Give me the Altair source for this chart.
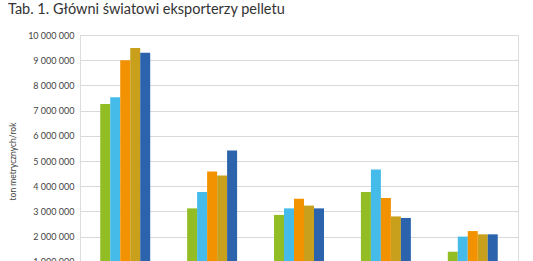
import altair as alt
import pandas as pd

countries = ["USA", "Kanada", "Łotwa", "Rosja", "Wietnam"]
years = ["2014", "2015", "2016", "2017", "2018"]
values = {
    "USA":     [7260000, 7530000, 9000000, 9480000, 9300000],
    "Kanada":  [3120000, 3770000, 4580000, 4420000, 5420000],
    "Łotwa":   [2860000, 3120000, 3500000, 3230000, 3120000],
    "Rosja":   [3770000, 4660000, 3530000, 2800000, 2740000],
    "Wietnam": [1400000, 2000000, 2220000, 2090000, 2090000],
}
colors = ["#93BD24", "#45BBEA", "#F39200", "#C9A01C", "#2B63AD"]

rows = []
for c in countries:
    for y, v in zip(years, values[c]):
        rows.append({"kraj": c, "rok": y, "wartosc": v})
df = pd.DataFrame(rows)

bars = alt.Chart(df).mark_bar(width=10).encode(
    x=alt.X("kraj:N", sort=countries, title=None,
            scale=alt.Scale(paddingInner=0.425, paddingOuter=0.233),
            axis=alt.Axis(labels=False, domainColor="#d9d9d9", ticks=False)),
    xOffset=alt.XOffset("rok:N", sort=years, scale=alt.Scale(paddingInner=0, paddingOuter=0)),
    y=alt.Y("wartosc:Q", title="ton metrycznych/rok",
            scale=alt.Scale(domain=[0, 10000000], nice=False),
            axis=alt.Axis(values=list(range(0, 10000001, 1000000)),
                          labelExpr="replace(format(datum.value, ',d'), /,/g, ' ')",
                          domain=False, ticks=False, labelPadding=6,
                          gridColor="#d9d9d9", gridWidth=1,
                          labelFont="Lato", labelFontSize=9, labelColor="#444",
                          titleFont="Lato", titleFontSize=8.5, titleFontWeight="normal",
                          titleColor="#444", titlePadding=10)),
    color=alt.Color("rok:N", sort=years, scale=alt.Scale(domain=years, range=colors),
                    legend=None),
)

chart = bars.properties(
    width=438,
    height=252,
    autosize=alt.AutoSizeParams(type="none"),
    padding={"left": 80, "top": 35, "right": 15, "bottom": 10},
    title=alt.TitleParams("Tab. 1. Główni światowi eksporterzy pelletu",
                          anchor="start", frame="group", dx=-72, offset=14,
                          font="Lato", fontSize=14.5, fontWeight="normal",
                          color="#333"),
).configure_view(stroke=None).configure(background="white")

chart.save("out.html", embed_options={"renderer": "svg", "actions": False})
